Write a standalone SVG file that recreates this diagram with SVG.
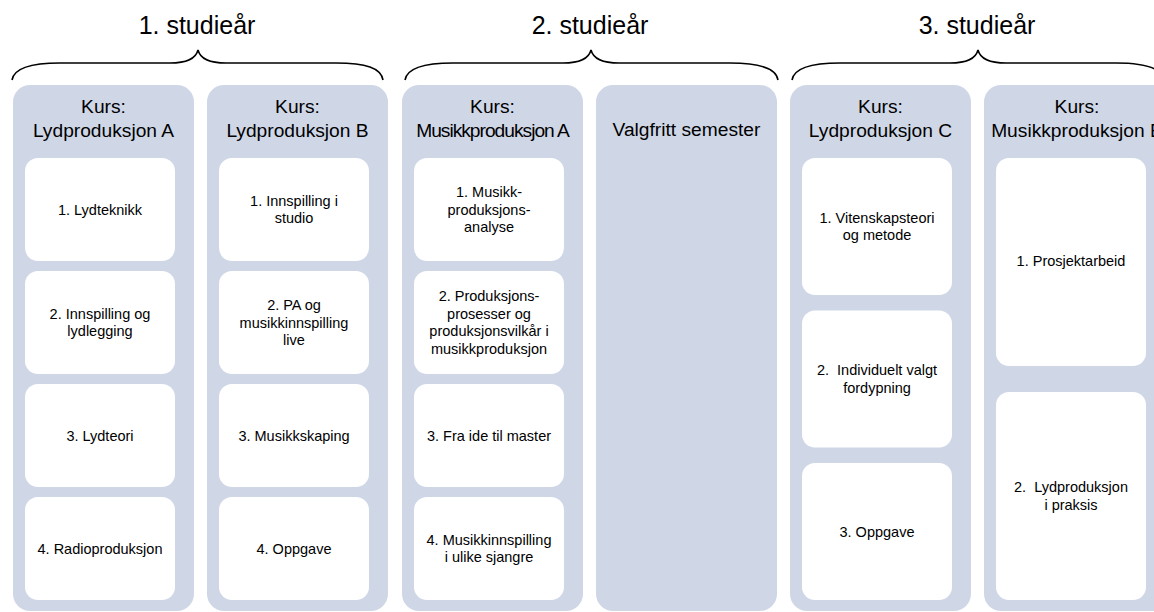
<svg xmlns="http://www.w3.org/2000/svg" width="1154" height="612" viewBox="0 0 1154 612">
<style>
.bg{fill:#ffffff}
.col{fill:#CFD7E7}
.box{fill:#ffffff}
.title{font-family:"Liberation Sans",Arial,sans-serif;font-size:25px;fill:#000;text-anchor:middle}
.head{font-family:"Liberation Sans",Arial,sans-serif;font-size:19.2px;fill:#000;text-anchor:middle}
.t{font-family:"Liberation Sans",Arial,sans-serif;font-size:14.5px;fill:#000;text-anchor:middle;white-space:pre}
.brace{fill:none;stroke:#000;stroke-width:1.6}
</style>
<rect class="bg" x="0" y="0" width="1154" height="612"/>

<g id="titles">
<text class="title" x="197" y="34">1. studieår</text>
<text class="title" x="590" y="34">2. studieår</text>
<text class="title" x="977" y="34">3. studieår</text>
</g>

<g id="braces">
<path class="brace" d="M12,80 C14,68 30,63 60,63 L170,63 C188,63 196,58 198,50 C200,58 208,63 226,63 L336,63 C366,63 381,68 383,80"/>
<path class="brace" d="M405,80 C407,68 423,63 453,63 L563,63 C581,63 589,58 591,50 C593,58 601,63 619,63 L730,63 C760,63 776,68 778,80"/>
<path class="brace" d="M792,80 C794,68 810,63 840,63 L950,63 C968,63 976,58 978,50 C980,58 988,63 1006,63 L1116,63 C1146,63 1162,68 1164,80"/>
</g>

<g id="col1">
<rect class="col" x="13" y="85" width="181" height="526" rx="17"/>
<text class="head" x="103.5" y="113">Kurs:</text>
<text class="head" x="103.5" y="137">Lydproduksjon A</text>
<g id="c1b1"><rect class="box" x="25" y="158" width="150" height="103" rx="13"/><text class="t" x="100" y="214.5">1. Lydteknikk</text></g>
<g id="c1b2"><rect class="box" x="25" y="271" width="150" height="103" rx="13"/><text class="t" x="100" y="318.75">2. Innspilling og</text><text class="t" x="100" y="336.25">lydlegging</text></g>
<g id="c1b3"><rect class="box" x="25" y="384" width="150" height="103" rx="13"/><text class="t" x="100" y="440.5">3. Lydteori</text></g>
<g id="c1b4"><rect class="box" x="25" y="497" width="150" height="103" rx="13"/><text class="t" x="100" y="553.5">4. Radioproduksjon</text></g>
</g>

<g id="col2">
<rect class="col" x="207" y="85" width="181" height="526" rx="17"/>
<text class="head" x="297.5" y="113">Kurs:</text>
<text class="head" x="297.5" y="137">Lydproduksjon B</text>
<g id="c2b1"><rect class="box" x="219" y="158" width="150" height="103" rx="13"/><text class="t" x="294" y="205.75">1. Innspilling i</text><text class="t" x="294" y="223.25">studio</text></g>
<g id="c2b2"><rect class="box" x="219" y="271" width="150" height="103" rx="13"/><text class="t" x="294" y="310">2. PA og</text><text class="t" x="294" y="327.5">musikkinnspilling</text><text class="t" x="294" y="345">live</text></g>
<g id="c2b3"><rect class="box" x="219" y="384" width="150" height="103" rx="13"/><text class="t" x="294" y="440.5">3. Musikkskaping</text></g>
<g id="c2b4"><rect class="box" x="219" y="497" width="150" height="103" rx="13"/><text class="t" x="294" y="553.5">4. Oppgave</text></g>
</g>

<g id="col3">
<rect class="col" x="402" y="85" width="181" height="526" rx="17"/>
<text class="head" x="492.5" y="113">Kurs:</text>
<text class="head" x="492.5" y="137" letter-spacing="-1">Musikkproduksjon A</text>
<g id="c3b1"><rect class="box" x="414" y="158" width="150" height="103" rx="13"/><text class="t" x="489" y="197">1. Musikk-</text><text class="t" x="489" y="214.5">produksjons-</text><text class="t" x="489" y="232">analyse</text></g>
<g id="c3b2"><rect class="box" x="414" y="271" width="150" height="103" rx="13"/><text class="t" x="489" y="301.25">2. Produksjons-</text><text class="t" x="489" y="318.75">prosesser og</text><text class="t" x="489" y="336.25">produksjonsvilkår i</text><text class="t" x="489" y="353.75">musikkproduksjon</text></g>
<g id="c3b3"><rect class="box" x="414" y="384" width="150" height="103" rx="13"/><text class="t" x="489" y="440.5">3. Fra ide til master</text></g>
<g id="c3b4"><rect class="box" x="414" y="497" width="150" height="103" rx="13"/><text class="t" x="489" y="544.75">4. Musikkinnspilling</text><text class="t" x="489" y="562.25">i ulike sjangre</text></g>
</g>

<g id="col4">
<rect class="col" x="596" y="85" width="181" height="526" rx="17"/>
<text class="head" x="686.5" y="136">Valgfritt semester</text>
</g>

<g id="col5">
<rect class="col" x="790" y="85" width="181" height="526" rx="17"/>
<text class="head" x="880.5" y="113">Kurs:</text>
<text class="head" x="880.5" y="137">Lydproduksjon C</text>
<g id="c5b1"><rect class="box" x="802" y="158" width="150" height="137" rx="13"/><text class="t" x="877" y="222.75">1. Vitenskapsteori</text><text class="t" x="877" y="240.25">og metode</text></g>
<g id="c5b2"><rect class="box" x="802" y="310.5" width="150" height="137" rx="13"/><text class="t" x="877" y="375.25">2.  Individuelt valgt</text><text class="t" x="877" y="392.75">fordypning</text></g>
<g id="c5b3"><rect class="box" x="802" y="463" width="150" height="137" rx="13"/><text class="t" x="877" y="536.5">3. Oppgave</text></g>
</g>

<g id="col6">
<rect class="col" x="984" y="85" width="186" height="526" rx="17"/>
<text class="head" x="1077" y="113">Kurs:</text>
<text class="head" x="1077" y="137">Musikkproduksjon B</text>
<g id="c6b1"><rect class="box" x="996" y="158" width="150" height="208" rx="13"/><text class="t" x="1071" y="266">1. Prosjektarbeid</text></g>
<g id="c6b2"><rect class="box" x="996" y="392" width="150" height="208" rx="13"/><text class="t" x="1071" y="492.25">2.  Lydproduksjon</text><text class="t" x="1071" y="509.75">i praksis</text></g>
</g>

<g id="connectors"></g>
</svg>
